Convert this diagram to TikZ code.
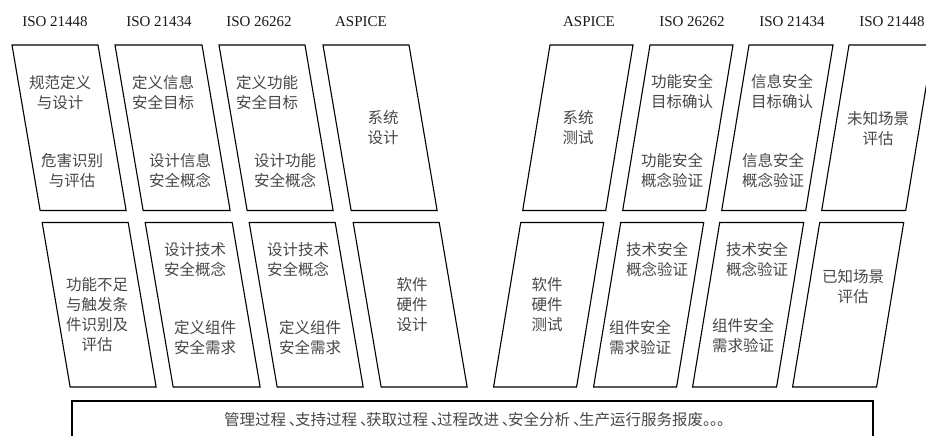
\documentclass[tikz,border=0pt]{standalone}
\usepackage{fontspec}
\setmainfont{Liberation Serif}
\newfontfamily\cjk{Noto Sans CJK SC}
\newcommand\pbox[5]{%
  \draw[boxline] ({#1+#3*(#4-45)},#4) -- ({#2+#3*(#4-45)},#4) -- ({#2+#3*(#5-45)},#5) -- ({#1+#3*(#5-45)},#5) -- cycle;}
\newcommand\dun{\hspace{3pt}\makebox[6pt][l]{、}}
\newcommand\juhao{\makebox[7pt][l]{。}}
\begin{document}
\begin{tikzpicture}[x=1pt,y=-1pt,
  boxline/.style={draw=black, line width=1.1pt, line join=miter},
  cn/.style={font=\cjk\fontsize{15.5}{20}\selectfont, text=black!72, align=center, inner sep=0pt},
  std/.style={font=\fontsize{15}{18}\selectfont, text=black!90, inner sep=0pt}]
\useasboundingbox (0,0) rectangle (926,436);
\clip (0,0) rectangle (926,436);

% standard labels
\node[std] (s1) at (55,22) {ISO 21448};
\node[std] (s2) at (159,22) {ISO 21434};
\node[std] (s3) at (259,22) {ISO 26262};
\node[std] (s4) at (361,22) {ASPICE};
\node[std] (s5) at (589,22) {ASPICE};
\node[std] (s6) at (692,22) {ISO 26262};
\node[std] (s7) at (792,22) {ISO 21434};
\node[std] (s8) at (892,22) {ISO 21448};

% left side parallelograms
\foreach \l/\r in {12/98, 115/202, 219/305, 323/409}{
  \pbox{\l}{\r}{0.17}{45}{210.5}
  \pbox{\l}{\r}{0.17}{222.5}{387}
}
% right side parallelograms
\foreach \l/\r in {550/633, 650/733, 749/833, 849/933}{
  \pbox{\l}{\r}{-0.165}{45}{210.5}
  \pbox{\l}{\r}{-0.165}{222.5}{387}
}

% top row texts
\node[cn] (t1a) at (60,92.5) {规范定义\\与设计};
\node[cn] (t1b) at (72,171) {危害识别\\与评估};
\node[cn] (t2a) at (163,92.5) {定义信息\\安全目标};
\node[cn] (t2b) at (180,171) {设计信息\\安全概念};
\node[cn] (t3a) at (267,92.5) {定义功能\\安全目标};
\node[cn] (t3b) at (285,171) {设计功能\\安全概念};
\node[cn] (t4) at (383,128) {系统\\设计};
\node[cn] (t5) at (578,128) {系统\\测试};
\node[cn] (t6a) at (682,92) {功能安全\\目标确认};
\node[cn] (t6b) at (672,170.5) {功能安全\\概念验证};
\node[cn] (t7a) at (782,92) {信息安全\\目标确认};
\node[cn] (t7b) at (773,170.5) {信息安全\\概念验证};
\node[cn] (t8) at (878,129) {未知场景\\评估};

% bottom row texts
\node[cn] (b1) at (97,315) {功能不足\\与触发条\\件识别及\\评估};
\node[cn] (b2a) at (195,260) {设计技术\\安全概念};
\node[cn] (b2b) at (205,338) {定义组件\\安全需求};
\node[cn] (b3a) at (298,260) {设计技术\\安全概念};
\node[cn] (b3b) at (310,338) {定义组件\\安全需求};
\node[cn] (b4) at (412,305) {软件\\硬件\\设计};
\node[cn] (b5) at (547,305) {软件\\硬件\\测试};
\node[cn] (b6a) at (657,260) {技术安全\\概念验证};
\node[cn] (b6b) at (640,338) {组件安全\\需求验证};
\node[cn] (b7a) at (757,260) {技术安全\\概念验证};
\node[cn] (b7b) at (743,336) {组件安全\\需求验证};
\node[cn] (b8) at (853,287) {已知场景\\评估};

% bottom bar
\draw[boxline] (72,401) rectangle (873,452);
\node[cn] (bar) at (474,420) {管理过程\dun 支持过程\dun 获取过程\dun 过程改进\dun 安全分析\dun 生产运行服务报废\juhao\juhao\juhao};
\end{tikzpicture}
\end{document}
